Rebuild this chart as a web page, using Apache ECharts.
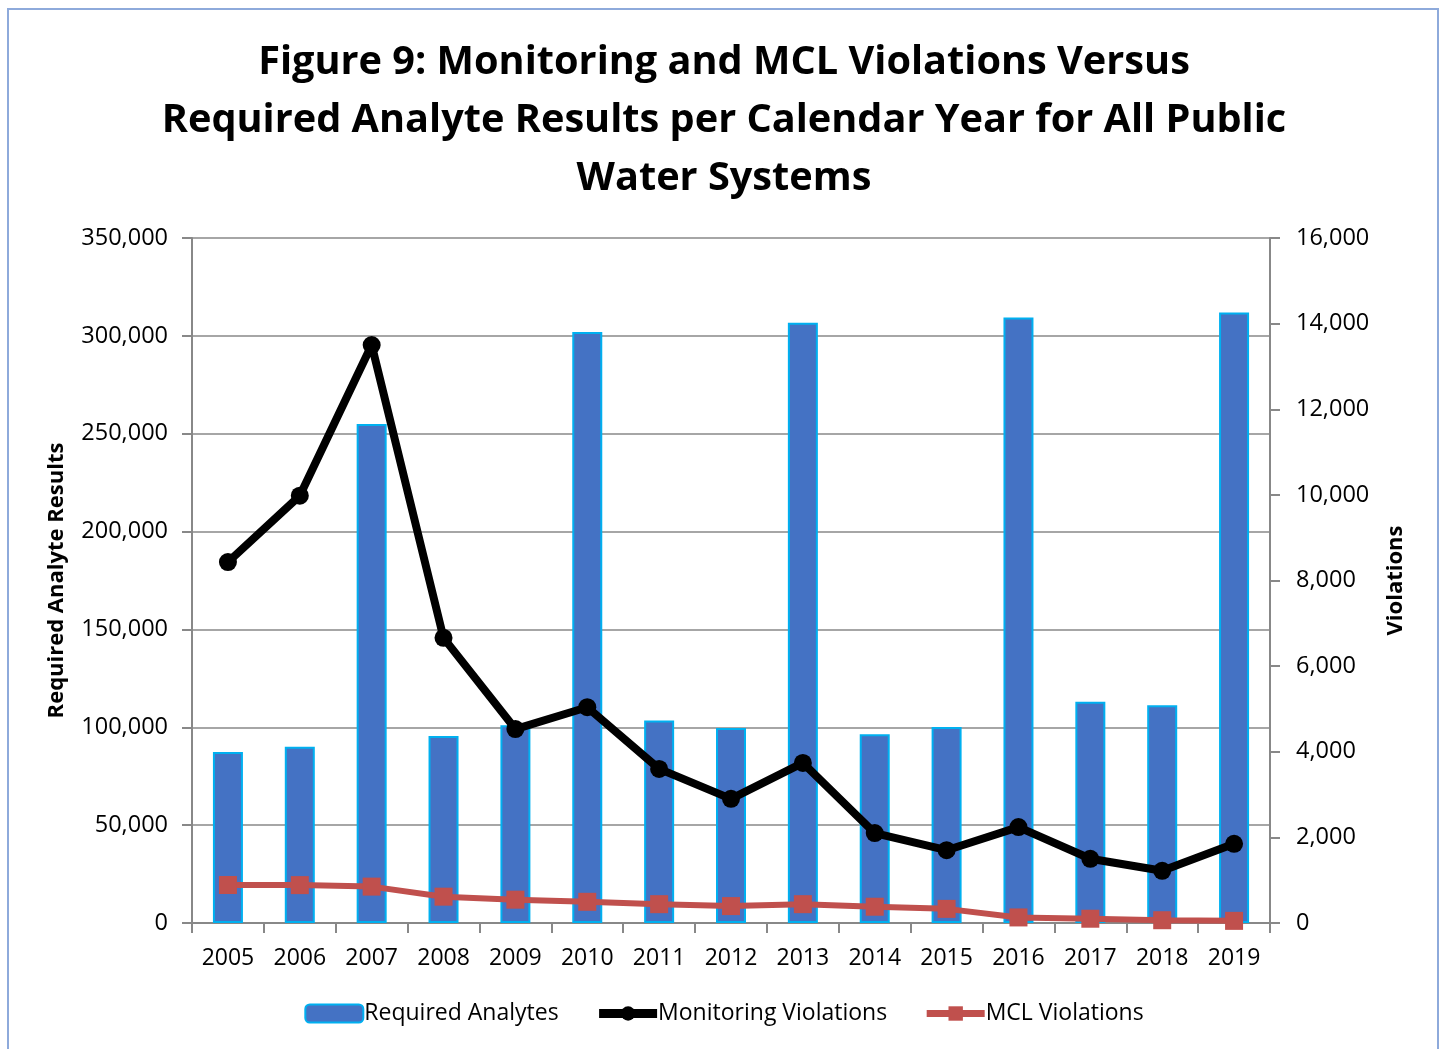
<!DOCTYPE html>
<html>
<head>
<meta charset="utf-8">
<script src="https://cdn.jsdelivr.net/npm/echarts@6/dist/echarts.min.js"></script>
<style>
html,body{margin:0;padding:0;background:#fff;overflow:hidden;}
#frame{position:absolute;left:7px;top:8px;width:1432px;height:1060px;border:2px solid #8EAADB;box-sizing:border-box;}
#c{position:absolute;left:0;top:0;width:1448px;height:1049px;}
</style>
</head>
<body>
<div id="frame"></div>
<div id="c"></div>
<script>
const years = ['2005','2006','2007','2008','2009','2010','2011','2012','2013','2014','2015','2016','2017','2018','2019'];
const requiredAnalytes = [87400, 90000, 255000, 95500, 101000, 302000, 103500, 99600, 306700, 96500, 100100, 309400, 113100, 111200, 311900];
const monitoringViolations = [8430, 9980, 13500, 6660, 4530, 5040, 3600, 2900, 3740, 2100, 1700, 2240, 1500, 1220, 1850];
const mclViolations = [888, 885, 850, 615, 545, 495, 440, 395, 440, 380, 330, 130, 100, 65, 50];

const chart = echarts.init(document.getElementById('c'));
const font = '"Open Sans", "Noto Sans", sans-serif';
chart.setOption({
  animation: false,
  title: {
    text: 'Figure 9: Monitoring and MCL Violations Versus\nRequired Analyte Results per Calendar Year for All Public\nWater Systems',
    left: 'center', top: 29,
    textStyle: {fontFamily: font, fontSize: 39.7, fontWeight: 'bold', color: '#000', lineHeight: 58}
  },
  legend: {
    bottom: 19, left: 'center', itemGap: 36, itemWidth: 58, itemHeight: 18,
    textStyle: {fontFamily: font, fontSize: 23, color: '#000', padding: [0, 0, 0, -4]},
    data: [
      {name: 'Required Analytes'},
      {name: 'Monitoring Violations', lineStyle: {width: 9, color: '#000'}, itemStyle: {color: '#000'}},
      {name: 'MCL Violations', lineStyle: {width: 7, color: '#C0504D'}, itemStyle: {color: '#C0504D'}}
    ]
  },
  grid: {left: 192, right: 178, top: 238, bottom: 126},
  xAxis: {
    type: 'category', data: years,
    axisLine: {lineStyle: {color: '#888', width: 2}},
    axisTick: {show: true, length: 10, lineStyle: {color: '#888', width: 2}},
    axisLabel: {fontFamily: font, fontSize: 23, color: '#000', margin: 24}
  },
  yAxis: [
    {
      type: 'value', min: 0, max: 350000, interval: 50000,
      name: 'Required Analyte Results', nameLocation: 'middle', nameGap: 124, nameRotate: 90,
      nameTextStyle: {fontFamily: font, fontSize: 22, fontWeight: 'bold', color: '#000'},
      axisLine: {show: true, lineStyle: {color: '#888', width: 2}},
      axisTick: {show: true, length: 10, lineStyle: {color: '#888', width: 2}},
      axisLabel: {fontFamily: font, fontSize: 23.5, color: '#000', margin: 24,
        formatter: v => v.toLocaleString('en-US')},
      splitLine: {lineStyle: {color: '#A6A6A6', width: 2}}
    },
    {
      type: 'value', min: 0, max: 16000, interval: 2000,
      name: 'Violations', nameLocation: 'middle', nameGap: 115, nameRotate: 90,
      nameTextStyle: {fontFamily: font, fontSize: 22, fontWeight: 'bold', color: '#000'},
      axisLine: {show: true, lineStyle: {color: '#888', width: 2}},
      axisTick: {show: true, length: 10, lineStyle: {color: '#888', width: 2}},
      axisLabel: {fontFamily: font, fontSize: 23.5, color: '#000', margin: 26,
        formatter: v => v.toLocaleString('en-US')},
      splitLine: {show: false}
    }
  ],
  series: [
    {
      name: 'Required Analytes', type: 'bar', yAxisIndex: 0, data: requiredAnalytes,
      barWidth: 30,
      itemStyle: {color: '#4472C4', borderColor: '#00B0F0', borderWidth: 2}
    },
    {
      name: 'Monitoring Violations', type: 'line', yAxisIndex: 1, data: monitoringViolations,
      symbol: 'circle', symbolSize: 18,
      lineStyle: {color: '#000', width: 8},
      itemStyle: {color: '#000'}, z: 4
    },
    {
      name: 'MCL Violations', type: 'line', yAxisIndex: 1, data: mclViolations,
      symbol: 'rect', symbolSize: 18,
      lineStyle: {color: '#C0504D', width: 6},
      itemStyle: {color: '#C0504D'}, z: 3
    }
  ]
});
</script>
</body>
</html>
